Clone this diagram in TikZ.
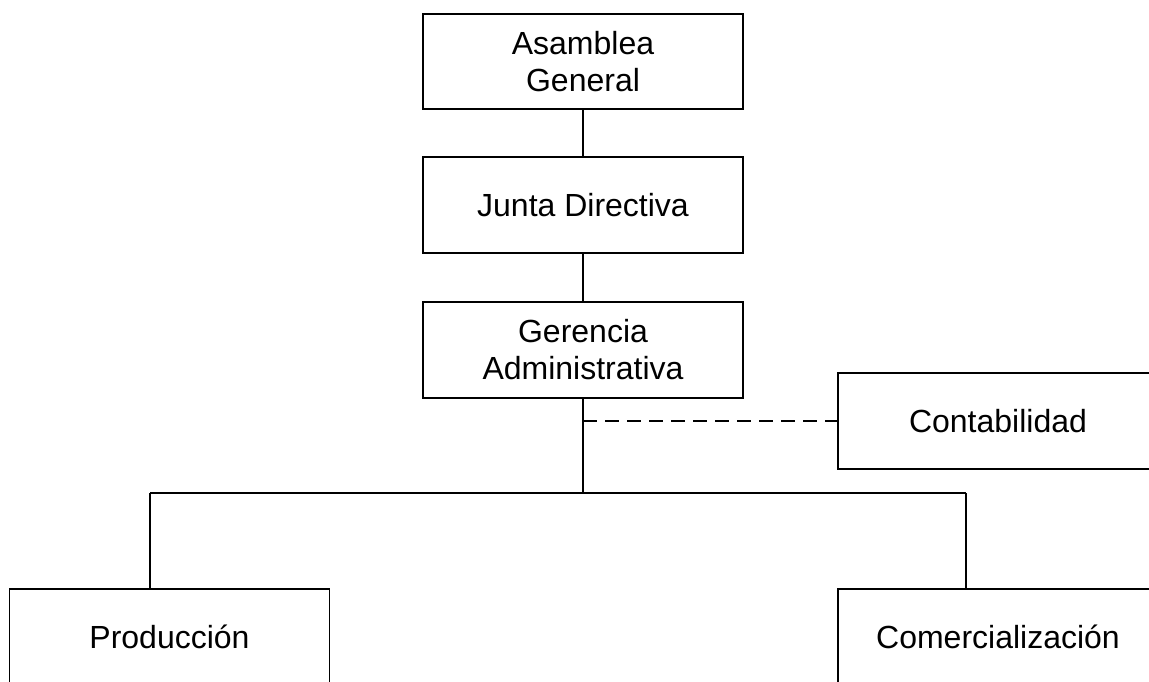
\documentclass[tikz,border=0pt]{standalone}
\usepackage{fontspec}
\setmainfont{Liberation Sans}
\usepackage{tikz}
\usetikzlibrary{positioning}
\tikzset{box/.style = {draw, line width = 1.8, minimum width = 320, minimum height = 95, align = center, font = \fontsize{32}{37}\selectfont, inner sep = 0}}
\tikzset{link/.style = {line width = 1.8}}

\begin{document}
\begin{tikzpicture}[x=1pt, y=-1pt]
      \useasboundingbox (0, 0) rectangle (1149, 681);
      \clip (0, 0) rectangle (1149, 681);

      \node [box] (asamblea) at (583, 61.5) {Asamblea\\General};
      \node [box, minimum height = 96] (junta) at (583, 205) {Junta Directiva};
      \node [box, minimum height = 96] (gerencia) at (583, 350) {Gerencia\\Administrativa};
      \node [box, minimum height = 96] (contab) at (998, 421) {Contabilidad};
      \node [box] (produccion) at (169.5, 636.5) {Producción};
      \node [box] (comercial) at (998, 636.5) {Comercialización};

      \coordinate (split) at (583, 493);
      \coordinate (left) at (150, 493);
      \coordinate (right) at (966, 493);

      \draw [link] (asamblea) -- (junta);
      \draw [link] (junta) -- (gerencia);
      \draw [link] (gerencia) -- (split);
      \draw [link, dash pattern = on 14 off 8] (gerencia.south |- contab.west) -- (contab.west);
      \draw [link] (left) -- (right);
      \draw [link] (left) -- (left |- produccion.north);
      \draw [link] (right) -- (right |- comercial.north);
    \end{tikzpicture}
\end{document}
